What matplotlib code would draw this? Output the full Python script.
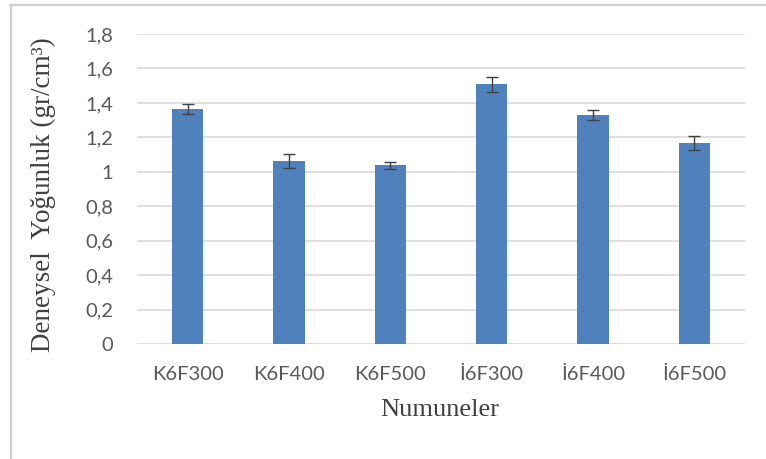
import matplotlib
matplotlib.use("Agg")
import matplotlib.pyplot as plt
from matplotlib.lines import Line2D
import numpy as np

samples = ["K6F300", "K6F400", "K6F500", "İ6F300", "İ6F400", "İ6F500"]
density = [1.365, 1.062, 1.037, 1.507, 1.330, 1.166]
density_err = [0.029, 0.042, 0.019, 0.041, 0.030, 0.039]
yticks = [0, 0.2, 0.4, 0.6, 0.8, 1.0, 1.2, 1.4, 1.6, 1.8]
ytick_labels = ["0", "0,2", "0,4", "0,6", "0,8", "1", "1,2", "1,4", "1,6", "1,8"]

W, H = 766, 459
fig = plt.figure(figsize=(W / 100, H / 100), dpi=100)
fig.patch.set_facecolor("white")

ax = fig.add_axes([137 / W, 1 - 344 / H, (745 - 137) / W, (344 - 34) / H])
x = np.arange(len(samples))
ax.bar(x, density, width=0.31, color="#4f81bd", zorder=3,
       yerr=density_err, capsize=4.5,
       error_kw=dict(ecolor="#404040", elinewidth=1.0, capthick=1.0, zorder=4))

ax.set_xlim(-0.5, len(samples) - 0.5)
ax.set_ylim(0, 1.8)
ax.set_yticks(yticks)
ax.set_yticklabels(ytick_labels)
ax.set_xticks(x)
ax.set_xticklabels(samples)
ax.grid(axis="y", color="#d9d9d9", linewidth=1.2, zorder=0)
ax.set_axisbelow(True)
for s in ax.spines.values():
    s.set_visible(False)
ax.tick_params(axis="both", length=0, colors="#595959", labelsize=14.5)
ax.tick_params(axis="y", pad=17)
ax.tick_params(axis="x", pad=16)
for lab in ax.get_xticklabels() + ax.get_yticklabels():
    lab.set_fontfamily(["Lato", "DejaVu Sans"])

fig.text(43 / W, 1 - 195 / H, "Deneysel  Yoğunluk (gr/cm³)", rotation=90,
         ha="center", va="center", fontsize=19.5, color="#404040",
         family=["Liberation Serif", "DejaVu Serif"])
fig.text(440 / W, 1 - 410 / H, "Numuneler", ha="center", va="center",
         fontsize=19, color="#404040", family=["Liberation Serif", "DejaVu Serif"])

# outer chart frame (top and left edges)
fig.add_artist(Line2D([10 / W, 1], [1 - 5 / H, 1 - 5 / H], transform=fig.transFigure,
                      color="#d0d0d0", linewidth=1.6))
fig.add_artist(Line2D([11 / W, 11 / W], [0, 1 - 5 / H], transform=fig.transFigure,
                      color="#d0d0d0", linewidth=1.6))

fig.savefig("out.png", dpi=100, facecolor="white")
